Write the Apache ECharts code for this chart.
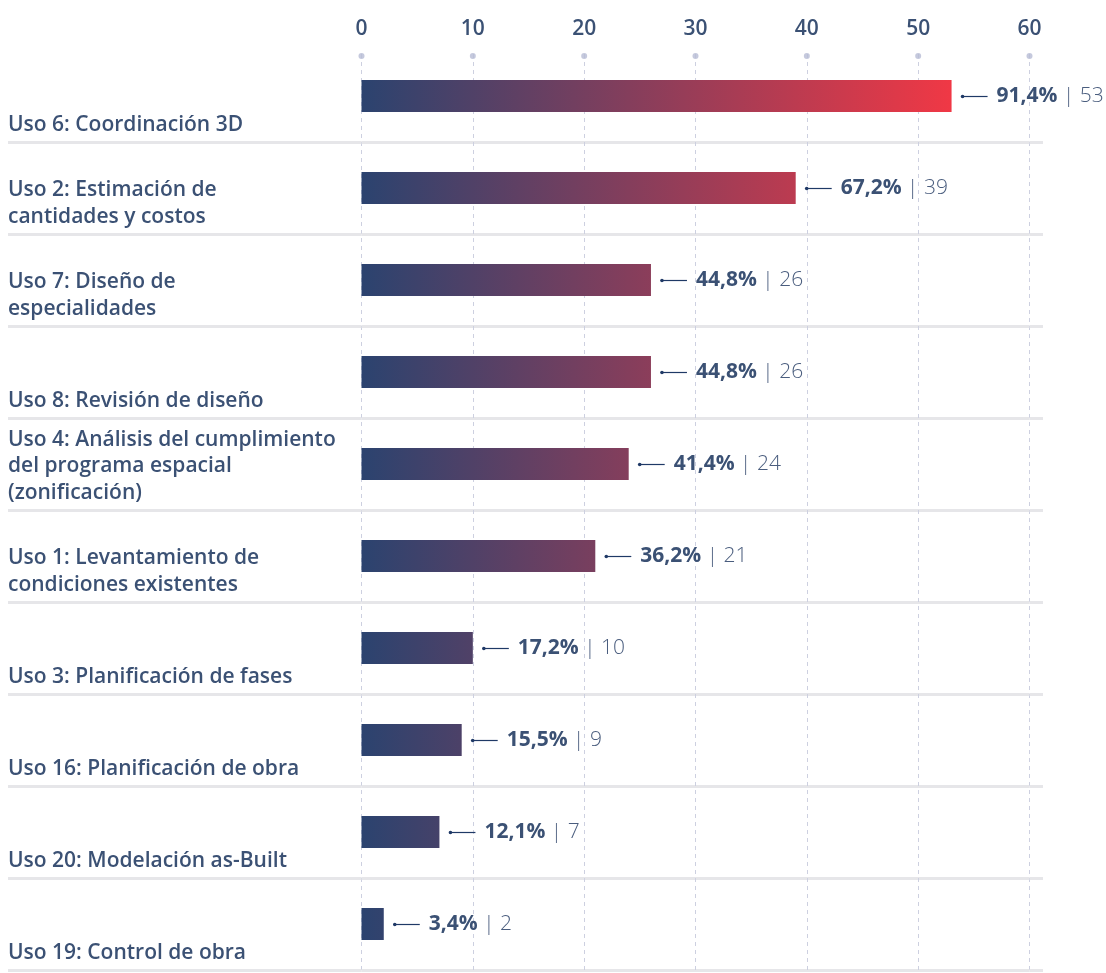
<!DOCTYPE html>
<html>
<head>
<meta charset="utf-8">
<script src="https://cdn.jsdelivr.net/npm/echarts@6/dist/echarts.min.js"></script>
<style>
  html, body { margin: 0; padding: 0; background: #ffffff; }
  #chart { width: 1106px; height: 973px; }
</style>
</head>
<body>
<div id="chart"></div>
<script>
// BIM uses, ordered by number of mentions
const categories = [
  'Uso 6: Coordinación 3D',
  'Uso 2: Estimación de\ncantidades y costos',
  'Uso 7: Diseño de\nespecialidades',
  'Uso 8: Revisión de diseño',
  'Uso 4: Análisis del cumplimiento\ndel programa espacial\n(zonificación)',
  'Uso 1: Levantamiento de\ncondiciones existentes',
  'Uso 3: Planificación de fases',
  'Uso 16: Planificación de obra',
  'Uso 20: Modelación as-Built',
  'Uso 19: Control de obra'
];
const counts = [53, 39, 26, 26, 24, 21, 10, 9, 7, 2];
const percents = [91.4, 67.2, 44.8, 44.8, 41.4, 36.2, 17.2, 15.5, 12.1, 3.4];
const xTicks = [0, 10, 20, 30, 40, 50, 60];

const FONT = '"Open Sans", Lato, sans-serif';
const TEXT = '#3b5174';
const RULE = '#e6e6e9';

const chart = echarts.init(document.getElementById('chart'), null, { renderer: 'canvas' });

const gridMain = { left: 361.5, right: 76.5, top: 50, bottom: 3 };
// boundaries between rows: one leading empty slot so ticks land on row edges
const rowEdges = [''].concat(categories);

function fmtPct(v) { return v.toFixed(1).replace('.', ',') + '%'; }

function buildOption(gradient) {
  return {
    animation: false,
    grid: [
      gridMain,
      { left: 361.5, right: 76.5, top: 50, height: 12 }
    ],
    xAxis: [
      {
        gridIndex: 0, type: 'value', position: 'top', min: 0, max: 60, interval: 10,
        axisLine: { show: false }, axisTick: { show: false },
        axisLabel: { color: TEXT, fontFamily: FONT, fontSize: 21, fontWeight: 600, margin: 10 },
        splitLine: { show: true, lineStyle: { color: '#cdd0e0', width: 1, type: [4, 4], dashOffset: 4 } }
      },
      {
        gridIndex: 1, type: 'value', min: 0, max: 60, show: false
      }
    ],
    yAxis: [
      { // bar rows
        gridIndex: 0, type: 'category', data: categories, inverse: true, show: false
      },
      { // row labels and separators on the left
        gridIndex: 0, type: 'category', data: rowEdges, inverse: true, boundaryGap: false,
        position: 'left',
        axisLine: { show: false },
        axisTick: { show: true, length: 353.5, interval: (i) => i > 0, lineStyle: { color: RULE, width: 3 } },
        splitLine: { show: true, interval: (i) => i > 0, lineStyle: { color: RULE, width: 3 } },
        axisLabel: {
          margin: 353.5, align: 'left', verticalAlign: 'bottom', padding: [0, 0, 4, 0],
          color: TEXT, fontFamily: FONT, fontSize: 21, fontWeight: 600, lineHeight: 26.5,
          interval: 0
        }
      },
      { // separator ends on the right
        gridIndex: 0, type: 'category', data: rowEdges, inverse: true, boundaryGap: false,
        position: 'right',
        axisLine: { show: false },
        axisTick: { show: true, length: 13.5, interval: (i) => i > 0, lineStyle: { color: RULE, width: 3 } },
        axisLabel: { show: false }, splitLine: { show: false }
      },
      {
        gridIndex: 1, type: 'value', min: 0, max: 1, show: false
      }
    ],
    series: [
      {
        type: 'bar', xAxisIndex: 0, yAxisIndex: 0, barWidth: 32, z: 3,
        data: counts,
        itemStyle: { color: gradient || '#2c4470' },
        label: {
          show: true, position: 'right', distance: 45,
          formatter: (p) => `{b|${fmtPct(percents[p.dataIndex])}}{l| | ${counts[p.dataIndex]}}`,
          rich: {
            b: { color: TEXT, fontFamily: FONT, fontSize: 21, fontWeight: 'bold' },
            l: { color: '#4a5d7e', fontFamily: FONT, fontSize: 21, fontWeight: 300 }
          }
        }
      },
      { // leader line with a small dot between bar and value
        type: 'custom', xAxisIndex: 0, yAxisIndex: 0, z: 4,
        data: counts.map((v, i) => [v, i]),
        renderItem: (params, api) => {
          const p = api.coord([api.value(0), api.value(1)]);
          const x0 = p[0] + 11, x1 = p[0] + 36, y = Math.round(p[1]) + 0.5;
          return {
            type: 'group',
            children: [
              { type: 'line', shape: { x1: x0, y1: y, x2: x1, y2: y }, style: { stroke: '#1f3966', lineWidth: 1.2 } },
              { type: 'circle', shape: { cx: x0, cy: y, r: 1.8 }, style: { fill: '#1f3966' } }
            ]
          };
        }
      },
      { // markers on top of each grid column
        type: 'scatter', xAxisIndex: 1, yAxisIndex: 3, symbolSize: 6,
        itemStyle: { color: '#b7bcd4' },
        data: xTicks.map((t) => [t, 0.5]),
        silent: true
      }
    ]
  };
}

chart.setOption(buildOption(null));
const x0 = chart.convertToPixel({ xAxisIndex: 0 }, 0);
const xMax = chart.convertToPixel({ xAxisIndex: 0 }, Math.max(...counts));
chart.setOption(buildOption(new echarts.graphic.LinearGradient(x0, 0, xMax, 0, [
  { offset: 0, color: '#2b436f' },
  { offset: 1, color: '#f03845' }
], true)));
</script>
</body>
</html>
